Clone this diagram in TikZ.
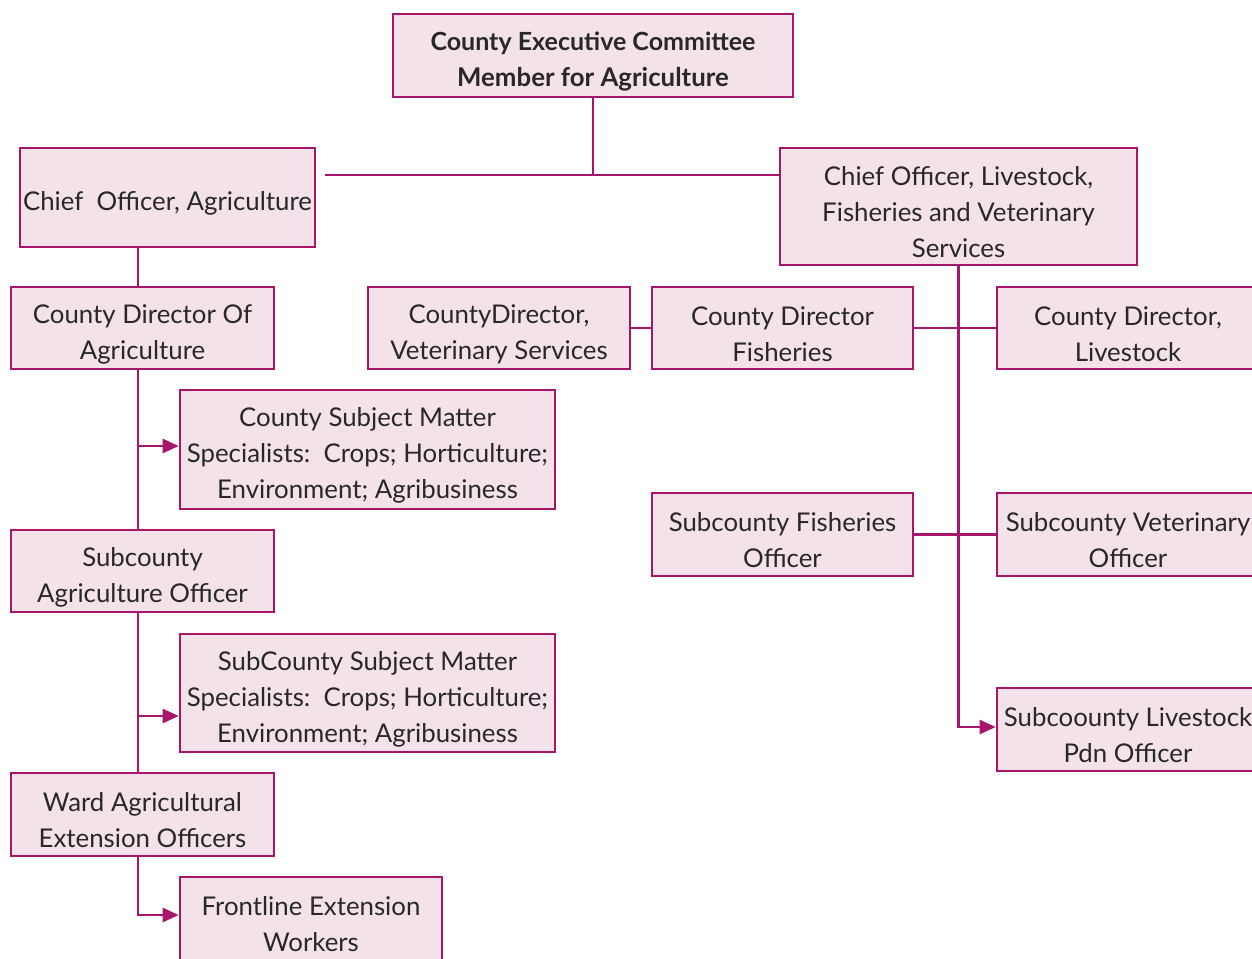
\documentclass[tikz,border=0pt]{standalone}
\usepackage{fontspec}
\setmainfont{Lato}
\usetikzlibrary{arrows.meta,positioning,calc}
\definecolor{plum}{RGB}{168,22,108}
\definecolor{blush}{RGB}{243,226,234}
\definecolor{ink}{RGB}{40,40,40}
\tikzset{
  box/.style={draw=plum,fill=blush,line width=1.3pt,align=center,font=\fontsize{12.9}{18}\selectfont,inner sep=0pt,text=ink},
  link/.style={draw=plum,line width=1.3pt},
  arr/.style={link,-{Triangle[length=8pt,width=7pt]}}
}
\begin{document}
\begin{tikzpicture}[x=0.5pt,y=-0.5pt]
\newcommand{\ob}[5]{\node[box,minimum width=#3*0.5pt,minimum height=#4*0.5pt] (#1) at (#2) {\rule{0pt}{15.5pt}#5};}
\useasboundingbox (0,0) rectangle (1252,958);
% top
\ob{cec}{593,55.5}{400}{83}{\fontsize{12.5}{18}\selectfont\bfseries County Executive Committee\\\bfseries Member for Agriculture}
\ob{chiefAg}{167.5,197.5}{295}{99}{Chief\ \ Officer, Agriculture}
\ob{chiefLv}{958.5,206.5}{357}{117}{Chief Officer, Livestock,\\Fisheries and Veterinary\\Services}
% agriculture side
\ob{dirAg}{142.5,328}{263}{82}{County Director Of\\Agriculture}
\ob{smsCty}{367.5,449.5}{375}{119}{County Subject Matter\\Specialists:\ \ Crops; Horticulture;\\Environment; Agribusiness}
\ob{subAg}{142.5,571}{263}{82}{Subcounty\\Agriculture Officer}
\ob{smsSub}{367.5,693}{375}{118}{SubCounty Subject Matter\\Specialists:\ \ Crops; Horticulture;\\Environment; Agribusiness}
\ob{ward}{142.5,814.5}{263}{83}{Ward Agricultural\\Extension Officers}
\ob{front}{311,918.5}{262}{83}{Frontline Extension\\Workers}
% livestock side
\ob{dirVet}{499,328}{262}{82}{CountyDirector,\\Veterinary Services}
\ob{dirFish}{782.5,328}{261}{82}{County Director\\Fisheries}
\ob{dirLv}{1128,328}{262}{82}{County Director,\\Livestock}
\ob{subFish}{782.5,534.5}{261}{83}{Subcounty Fisheries\\Officer}
\ob{subVet}{1128,534.5}{262}{83}{Subcounty Veterinary\\Officer}
\ob{subLv}{1128,729.5}{262}{83}{Subcoounty Livestock\\Pdn Officer}
\coordinate (tee) at (593,175);
\coordinate (tl) at (325,175);
\coordinate (spine) at (138,0);
\draw[link] (cec.south) -- (tee);
\draw[link] (tl) -- (tl -| chiefLv.west);
\draw[link] (chiefAg.south -| spine) -- (dirAg.north -| spine);
\draw[link] (dirAg.south -| spine) -- (subAg.north -| spine);
\draw[arr] ([yshift=1.75pt]smsCty.west -| spine) -- ([yshift=1.75pt]smsCty.west);
\draw[link] (subAg.south -| spine) -- (ward.north -| spine);
\draw[arr] ([yshift=-11.5pt]smsSub.west -| spine) -- ([yshift=-11.5pt]smsSub.west);
\draw[arr] (ward.south -| spine) |- ([yshift=1.75pt]front.west);
\draw[arr] (chiefLv.south) |- ([yshift=1.25pt]subLv.west);
\draw[link] (dirVet.east) -- (dirFish.west);
\draw[link] (dirFish.east) -- (dirLv.west);
\draw[link] (subFish.east) -- (subVet.west);
\end{tikzpicture}
\end{document}
